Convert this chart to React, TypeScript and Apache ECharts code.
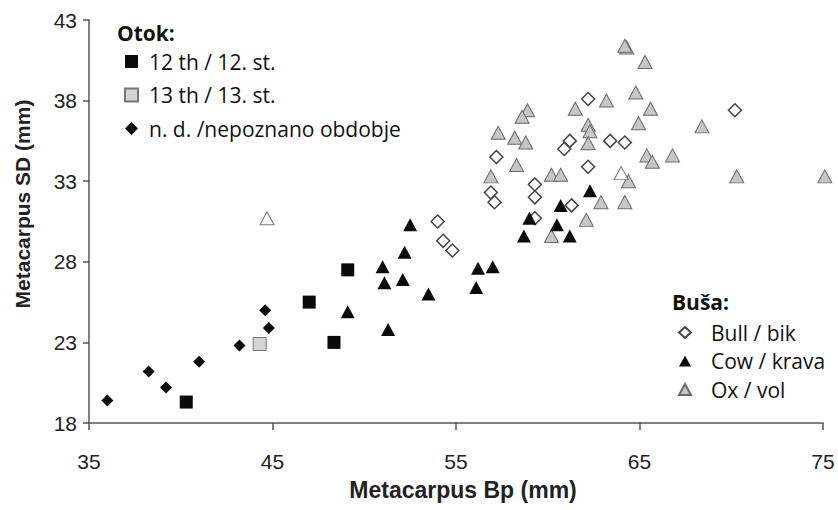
import React, { useEffect, useRef } from "react";
import * as echarts from "echarts";

// Otok (period) groups
const c12X = [40.3, 47.0, 48.35, 49.1];
const c12Y = [19.3, 25.5, 23.0, 27.5];
const c13X = [44.3];
const c13Y = [22.9];
const ndX = [36.0, 38.25, 39.2, 41.0, 43.2, 44.6, 44.8];
const ndY = [19.4, 21.2, 20.2, 21.8, 22.8, 25.0, 23.9];

// Buša (sex) groups
const bullX = [54.0, 54.3, 54.8, 57.2, 56.9, 57.1, 59.3, 59.3, 59.3, 61.3, 62.2, 62.2, 61.2, 60.9, 63.4, 64.2, 70.2];
const bullY = [30.5, 29.3, 28.7, 34.5, 32.3, 31.7, 32.8, 32.0, 30.7, 31.5, 33.9, 38.1, 35.5, 35.0, 35.5, 35.4, 37.4];
const cowX = [52.5, 52.2, 51.0, 51.1, 52.1, 53.5, 49.1, 51.3, 56.2, 57.0, 56.1, 58.7, 59.0, 60.7, 60.5, 61.2, 62.3];
const cowY = [30.3, 28.6, 27.7, 26.7, 26.9, 26.0, 24.9, 23.8, 27.6, 27.7, 26.4, 29.6, 30.7, 31.5, 30.3, 29.6, 32.4];
const oxX = [64.3, 64.2, 65.3, 64.8, 65.6, 64.95, 63.2, 61.5, 58.9, 58.6, 57.3, 58.2, 58.8, 62.2, 62.3, 62.2, 58.3, 56.9, 60.2, 60.7, 64.4, 65.4, 65.7, 66.8, 68.4, 70.3, 75.1, 62.9, 64.2, 62.1, 60.2];
const oxY = [41.3, 41.4, 40.4, 38.5, 37.5, 36.6, 38.0, 37.5, 37.4, 37.0, 36.0, 35.7, 35.4, 36.5, 36.1, 35.35, 34.0, 33.3, 33.4, 33.4, 33.0, 34.6, 34.2, 34.6, 36.4, 33.3, 33.3, 31.7, 31.7, 30.6, 29.6];
const oxWhiteX = [44.7, 64.0];
const oxWhiteY = [30.7, 33.5];

const otokNames = ["12 th / 12. st.", "13 th / 13. st.", "n. d. /nepoznano obdobje"];
const busaNames = ["Bull / bik", "Cow / krava", "Ox / vol"];
const xAxisTitle = "Metacarpus Bp (mm)";
const yAxisTitle = "Metacarpus SD (mm)";

const pairs = (xs: number[], ys: number[]) => xs.map((x, i) => [x, ys[i]]);

const legendFont = "'Open Sans', 'Noto Sans', sans-serif";
const axisFont = "'Liberation Sans', Arial, sans-serif";

export default function App() {
  const ref = useRef<HTMLDivElement>(null);
  useEffect(() => {
    const chart = echarts.init(ref.current!, null, { renderer: "svg" });
    const oxData: any[] = pairs(oxX, oxY).map((p) => ({ value: p }));
    pairs(oxWhiteX, oxWhiteY).forEach((p) =>
      oxData.push({ value: p, itemStyle: { color: "#ffffff", borderColor: "#777" } })
    );
    const legendText = {
      fontFamily: legendFont,
      fontSize: 21,
      color: "#111",
      lineHeight: 20,
    };
    chart.setOption({
      animation: false,
      backgroundColor: "#ffffff",
      grid: { left: 89, right: 15, top: 20, bottom: 87, containLabel: false },
      xAxis: {
        type: "value",
        min: 35,
        max: 75,
        interval: 10,
        splitLine: { show: false },
        axisLine: { show: true, onZero: false, lineStyle: { color: "#555", width: 1.5 } },
        axisTick: { show: true, length: 7, lineStyle: { color: "#555", width: 1.5 } },
        axisLabel: { fontFamily: axisFont, fontSize: 21, color: "#222", margin: 28 },
      },
      yAxis: {
        type: "value",
        min: 18,
        max: 43,
        interval: 5,
        splitLine: { show: false },
        axisLine: { show: true, onZero: false, lineStyle: { color: "#555", width: 1.5 } },
        axisTick: { show: true, length: 6, lineStyle: { color: "#555", width: 1.5 } },
        axisLabel: { fontFamily: axisFont, fontSize: 21, color: "#222", margin: 12 },
      },
      legend: [
        {
          left: 119,
          top: 46,
          orient: "vertical",
          selectedMode: false,
          itemWidth: 13,
          itemHeight: 13,
          itemGap: 12.5,
          data: [
            { name: otokNames[0], icon: "rect" },
            { name: otokNames[1], icon: "rect" },
            { name: otokNames[2], icon: "diamond" },
          ],
          textStyle: { ...legendText, padding: [0, 0, 0, 6] },
        },
        {
          left: 673,
          top: 317,
          orient: "vertical",
          selectedMode: false,
          itemWidth: 12,
          itemHeight: 11,
          itemGap: 7.5,
          data: [
            { name: busaNames[0], icon: "diamond" },
            { name: busaNames[1], icon: "triangle" },
            { name: busaNames[2], icon: "triangle" },
          ],
          textStyle: { ...legendText, padding: [0, 0, 0, 15] },
        },
      ],
      graphic: [
        {
          type: "text",
          left: 117,
          top: 22,
          style: { text: "Otok:", font: `bold 21px ${legendFont}`, fill: "#111" },
        },
        {
          type: "text",
          left: 672,
          top: 291,
          style: { text: "Buša:", font: `bold 21px ${legendFont}`, fill: "#111" },
        },
        {
          type: "text",
          x: 22,
          y: 204,
          rotation: Math.PI / 2,
          style: {
            text: yAxisTitle,
            font: `bold 21px ${axisFont}`,
            fill: "#222",
            align: "center",
            verticalAlign: "middle",
          },
        },
        {
          type: "text",
          x: 463,
          y: 490,
          style: {
            text: xAxisTitle,
            font: `bold 23px ${axisFont}`,
            fill: "#222",
            align: "center",
            verticalAlign: "middle",
          },
        },
      ],
      series: [
        {
          name: busaNames[2],
          type: "scatter",
          clip: false,
          symbol: "triangle",
          symbolSize: [14, 13],
          itemStyle: { color: "#c6c6c6", borderColor: "#6a6a6a", borderWidth: 1, opacity: 1 },
          data: oxData,
        },
        {
          name: busaNames[0],
          type: "scatter",
          clip: false,
          symbol: "diamond",
          symbolSize: 13,
          itemStyle: { color: "#ffffff", borderColor: "#444", borderWidth: 1.5, opacity: 1 },
          data: pairs(bullX, bullY),
        },
        {
          name: busaNames[1],
          type: "scatter",
          clip: false,
          symbol: "triangle",
          symbolSize: [14, 13],
          itemStyle: { color: "#0a0a0a", opacity: 1 },
          data: pairs(cowX, cowY),
        },
        {
          name: otokNames[0],
          type: "scatter",
          clip: false,
          symbol: "rect",
          symbolSize: 13,
          itemStyle: { color: "#0a0a0a", opacity: 1 },
          data: pairs(c12X, c12Y),
        },
        {
          name: otokNames[1],
          type: "scatter",
          clip: false,
          symbol: "rect",
          symbolSize: 13,
          itemStyle: { color: "#d4d4d4", borderColor: "#777", borderWidth: 1, opacity: 1 },
          data: pairs(c13X, c13Y),
        },
        {
          name: otokNames[2],
          type: "scatter",
          clip: false,
          symbol: "diamond",
          symbolSize: 12,
          itemStyle: { color: "#0a0a0a", opacity: 1 },
          data: pairs(ndX, ndY),
        },
      ],
    });
    return () => chart.dispose();
  }, []);
  return (
    <div
      ref={ref}
      style={{ position: "fixed", left: 0, top: 0, width: 838, height: 510 }}
    />
  );
}
